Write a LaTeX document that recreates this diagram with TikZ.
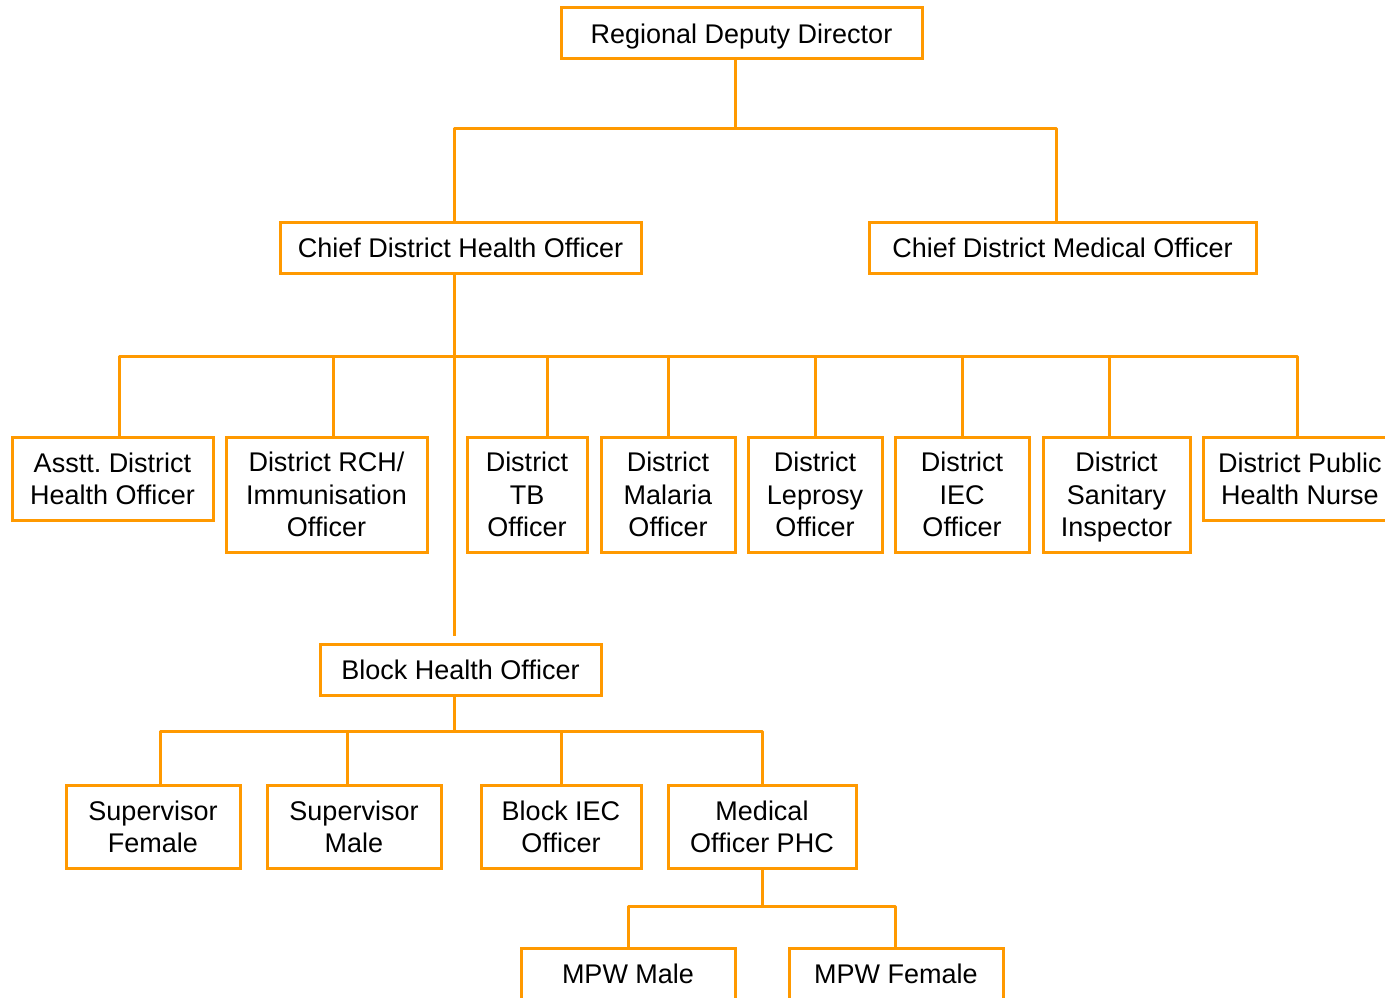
\documentclass[tikz,border=0pt]{standalone}
\usepackage{fontspec}
\setmainfont[Ligatures=NoCommon]{Liberation Sans}
\definecolor{boxorange}{RGB}{255,153,0}
\frenchspacing
\begin{document}
\begin{tikzpicture}[x=1pt,y=-1pt,
  post/.style={draw=boxorange,line width=3pt,fill=white,inner sep=0pt,
    align=center,font=\fontsize{27}{32.5}\selectfont,text=black,text depth=0pt},
  onerow/.style={post,minimum height=51pt},
  tworow/.style={post,minimum height=83pt},
  threerow/.style={post,minimum height=115pt},
  link/.style={draw=boxorange,line width=3pt,line join=round}]
\fill[white] (0,0) rectangle (1385,998);
\useasboundingbox (0,0) rectangle (1385,998);
\clip (0,0) rectangle (1385,998);

% junction points of the connector bars
\coordinate (bar1) at (735,128);
\coordinate (bar2) at (454,356);
\coordinate (bar3) at (454,731);
\coordinate (bar4) at (762,906);

% --- boxes ---
\node[onerow,minimum width=361pt] (rdd) at (741.5,33.5) {Regional Deputy Director};
\node[onerow,minimum width=361pt] (cdho) at (460.5,247.5) {Chief District Health Officer};
\node[onerow,minimum width=387pt] (cdmo) at (1062.5,247.5) {Chief District Medical Officer};

\node[tworow,minimum width=201pt] (adho) at (112.5,478.5) {Asstt. District\\Health Officer};
\node[threerow,minimum width=201pt] (rch) at (326.5,494.5) {District RCH/\\Immunisation\\Officer};
\node[threerow,minimum width=120pt] (tb) at (527,494.5) {District\\TB\\Officer};
\node[threerow,minimum width=134pt] (mal) at (668,494.5) {District\\Malaria\\Officer};
\node[threerow,minimum width=134pt] (lep) at (815,494.5) {District\\Leprosy\\Officer};
\node[threerow,minimum width=134pt] (iec) at (962,494.5) {District\\IEC\\Officer};
\node[threerow,minimum width=147pt] (san) at (1116.5,494.5) {District\\Sanitary\\Inspector};
\node[tworow,minimum width=194pt] (phn) at (1300,478.5) {District Public\\Health Nurse};

\node[onerow,minimum width=281pt] (bho) at (460.5,669.5) {Block Health Officer};

\node[tworow,minimum width=174pt] (sf) at (153,826.5) {Supervisor\\Female};
\node[tworow,minimum width=174pt] (sm) at (354,826.5) {Supervisor\\Male};
\node[tworow,minimum width=160pt] (biec) at (561,826.5) {Block IEC\\Officer};
\node[tworow,minimum width=188pt] (mo) at (762,826.5) {Medical\\Officer PHC};

\node[onerow,minimum width=214pt] (mpwm) at (628,973.5) {MPW Male};
\node[onerow,minimum width=214pt] (mpwf) at (896,973.5) {MPW Female};

% --- connectors ---
\draw[link] ([xshift=-6.5pt]rdd.south) -- (bar1);
\draw[link] ([xshift=-6.5pt]cdho.north) |- (bar1) -| ([xshift=-6.5pt]cdmo.north);

\draw[link] ([xshift=-6.5pt]cdho.south) -- ([xshift=-6.5pt,yshift=7pt]bho.north);
\draw[link] ([xshift=6.5pt]adho.north) |- (bar2) -| ([xshift=-3pt]phn.north);
\draw[link] ([xshift=6.5pt]rch.north) |- (bar2);
\draw[link] ([xshift=20pt]tb.north) |- (bar2);
\draw[link] (mal.north) |- (bar2);
\draw[link] (lep.north) |- (bar2);
\draw[link] (iec.north) |- (bar2);
\draw[link] ([xshift=-7.5pt]san.north) |- (bar2);

\draw[link] ([xshift=-6.5pt]bho.south) -- (bar3);
\draw[link] ([xshift=7pt]sf.north) |- (bar3) -| (mo.north);
\draw[link] ([xshift=-7pt]sm.north) |- (bar3);
\draw[link] (biec.north) |- (bar3);

\draw[link] (mo.south) -- (bar4);
\draw[link] (mpwm.north) |- (bar4) -| ([xshift=-1pt]mpwf.north);
\end{tikzpicture}
\end{document}
